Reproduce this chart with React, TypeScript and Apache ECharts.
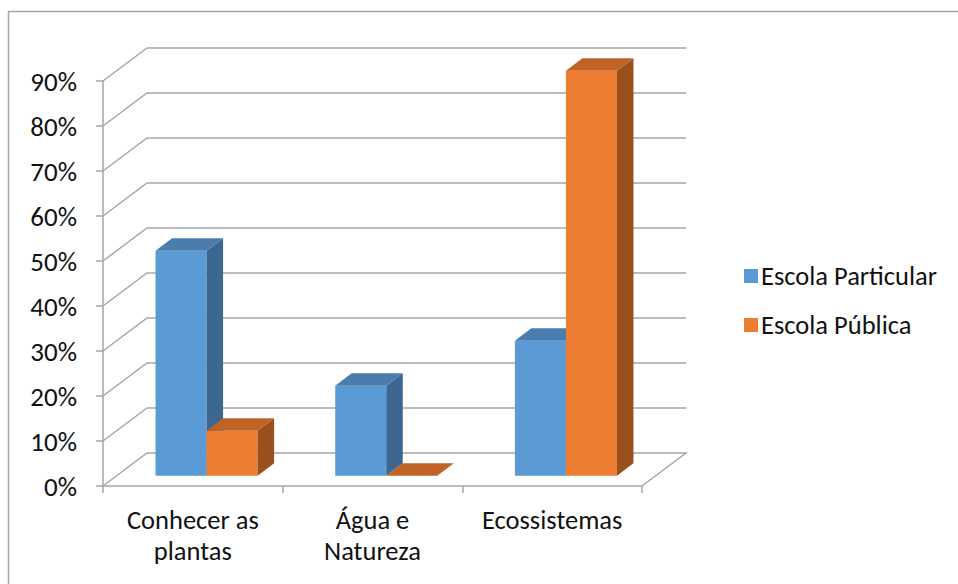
import React, { useEffect, useRef } from "react";
import * as echarts from "echarts";

// Categories and values (percent)
const categories = ["Conhecer as\nplantas", "Água e\nNatureza", "Ecossistemas"];
const seriesNames = ["Escola Particular", "Escola Pública"];
const particular = [50, 20, 30];
const publica = [10, 0, 90];
const gridLevels = [0, 10, 20, 30, 40, 50, 60, 70, 80, 90];

// 3D look: depth vector of the box and bar placement inside it
const DX = 44;
const DY = -33;
const D0 = 0.3125; // bar front plane (fraction of depth)
const D1 = 0.6875; // bar back plane
const BAR_FRAC = 0.284; // bar width as a fraction of the category band

const FONT = "Carlito, Lato, sans-serif";
const GRID_COLOR = "#A6A6A6";

const faces = [
  { front: "#5B9BD5", top: "#4A7CAD", side: "#3D6690" },
  { front: "#ED7D31", top: "#BF6426", side: "#9A501D" },
];

function makeBarRender(idx: number) {
  return (params: any, api: any) => {
    const i = api.value(0);
    const v = api.value(1);
    const base = api.coord([i, 0]);
    const top = api.coord([i, v]);
    const band = api.size([1, 0])[0];
    const bw = band * BAR_FRAC;
    const fx = base[0] + (idx === 0 ? -bw : 0) + DX * D0;
    const fyB = base[1] + DY * D0;
    const fyT = top[1] + DY * D0;
    const ddx = DX * (D1 - D0);
    const ddy = DY * (D1 - D0);
    const c = faces[idx];
    const children: any[] = [];
    if (fyB - fyT > 0.5) {
      children.push({
        type: "rect",
        shape: { x: fx, y: fyT, width: bw, height: fyB - fyT },
        style: { fill: c.front },
      });
      children.push({
        type: "polygon",
        shape: {
          points: [
            [fx + bw, fyT],
            [fx + bw + ddx, fyT + ddy],
            [fx + bw + ddx, fyB + ddy],
            [fx + bw, fyB],
          ],
        },
        style: { fill: c.side },
      });
    }
    children.push({
      type: "polygon",
      shape: {
        points: [
          [fx, fyT],
          [fx + bw, fyT],
          [fx + bw + ddx, fyT + ddy],
          [fx + ddx, fyT + ddy],
        ],
      },
      style: { fill: c.top },
    });
    return { type: "group", children };
  };
}

function renderWalls(params: any, api: any) {
  const cs = params.coordSys;
  const left = cs.x;
  const right = cs.x + cs.width;
  const v = api.value(1);
  const y = api.coord([0, v])[1];
  const pts =
    v === 0
      ? [
          [right, y],
          [right + DX, y + DY],
          [left + DX, y + DY],
          [left, y],
        ]
      : [
          [left, y],
          [left + DX, y + DY],
          [right + DX, y + DY],
        ];
  return {
    type: "polyline",
    shape: { points: pts },
    style: { stroke: GRID_COLOR, lineWidth: 1.5, fill: "none" },
  };
}

export default function App() {
  const ref = useRef<HTMLDivElement>(null);

  useEffect(() => {
    if (!ref.current) return;
    const chart = echarts.init(ref.current, null, { renderer: "svg" });
    chart.setOption({
      animation: false,
      backgroundColor: "#ffffff",
      textStyle: { fontFamily: FONT },
      graphic: [
        {
          type: "rect",
          shape: { x: 8.5, y: 11.5, width: 980, height: 600 },
          style: { fill: "none", stroke: GRID_COLOR, lineWidth: 1.5 },
          silent: true,
        },
      ],
      grid: { left: 103, top: 81, width: 539, height: 405 },
      xAxis: {
        type: "category",
        data: categories,
        boundaryGap: true,
        axisLine: { show: true, lineStyle: { color: GRID_COLOR, width: 1.5 } },
        axisTick: {
          show: true,
          interval: 0,
          length: 7,
          lineStyle: { color: GRID_COLOR, width: 1.5 },
        },
        axisLabel: {
          interval: 0,
          hideOverlap: false,
          color: "#111",
          fontFamily: FONT,
          fontSize: 26.5,
          lineHeight: 31,
          margin: 18,
        },
        splitLine: { show: false },
      },
      yAxis: {
        type: "value",
        min: 0,
        max: 90,
        interval: 10,
        axisLine: { show: true, lineStyle: { color: GRID_COLOR, width: 1.5 } },
        axisTick: { show: true, length: 7, lineStyle: { color: GRID_COLOR, width: 1.5 } },
        axisLabel: {
          color: "#111",
          fontFamily: FONT,
          fontSize: 27,
          margin: 26,
          formatter: (val: number) => `${val}%`,
        },
        splitLine: { show: false },
      },
      legend: {
        orient: "vertical",
        left: 739,
        top: 256,
        itemWidth: 14,
        itemHeight: 14,
        itemGap: 19,
        icon: "rect",
        data: seriesNames,
        textStyle: {
          color: "#111",
          fontFamily: FONT,
          fontSize: 26.5,
          lineHeight: 30,
          padding: [0, 0, 0, -2],
        },
      },
      series: [
        {
          type: "custom",
          name: "walls",
          silent: true,
          z: 1,
          renderItem: renderWalls,
          encode: { x: 0, y: 1 },
          data: gridLevels.map((v) => [0, v]),
        },
        {
          type: "custom",
          name: seriesNames[0],
          z: 2,
          itemStyle: { color: faces[0].front },
          renderItem: makeBarRender(0),
          encode: { x: 0, y: 1 },
          data: particular.map((v, i) => [i, v]),
        },
        {
          type: "custom",
          name: seriesNames[1],
          z: 2,
          itemStyle: { color: faces[1].front },
          renderItem: makeBarRender(1),
          encode: { x: 0, y: 1 },
          data: publica.map((v, i) => [i, v]),
        },
      ],
    });
    return () => chart.dispose();
  }, []);

  return (
    <div
      ref={ref}
      style={{ position: "fixed", left: 0, top: 0, width: 958, height: 584 }}
    />
  );
}
